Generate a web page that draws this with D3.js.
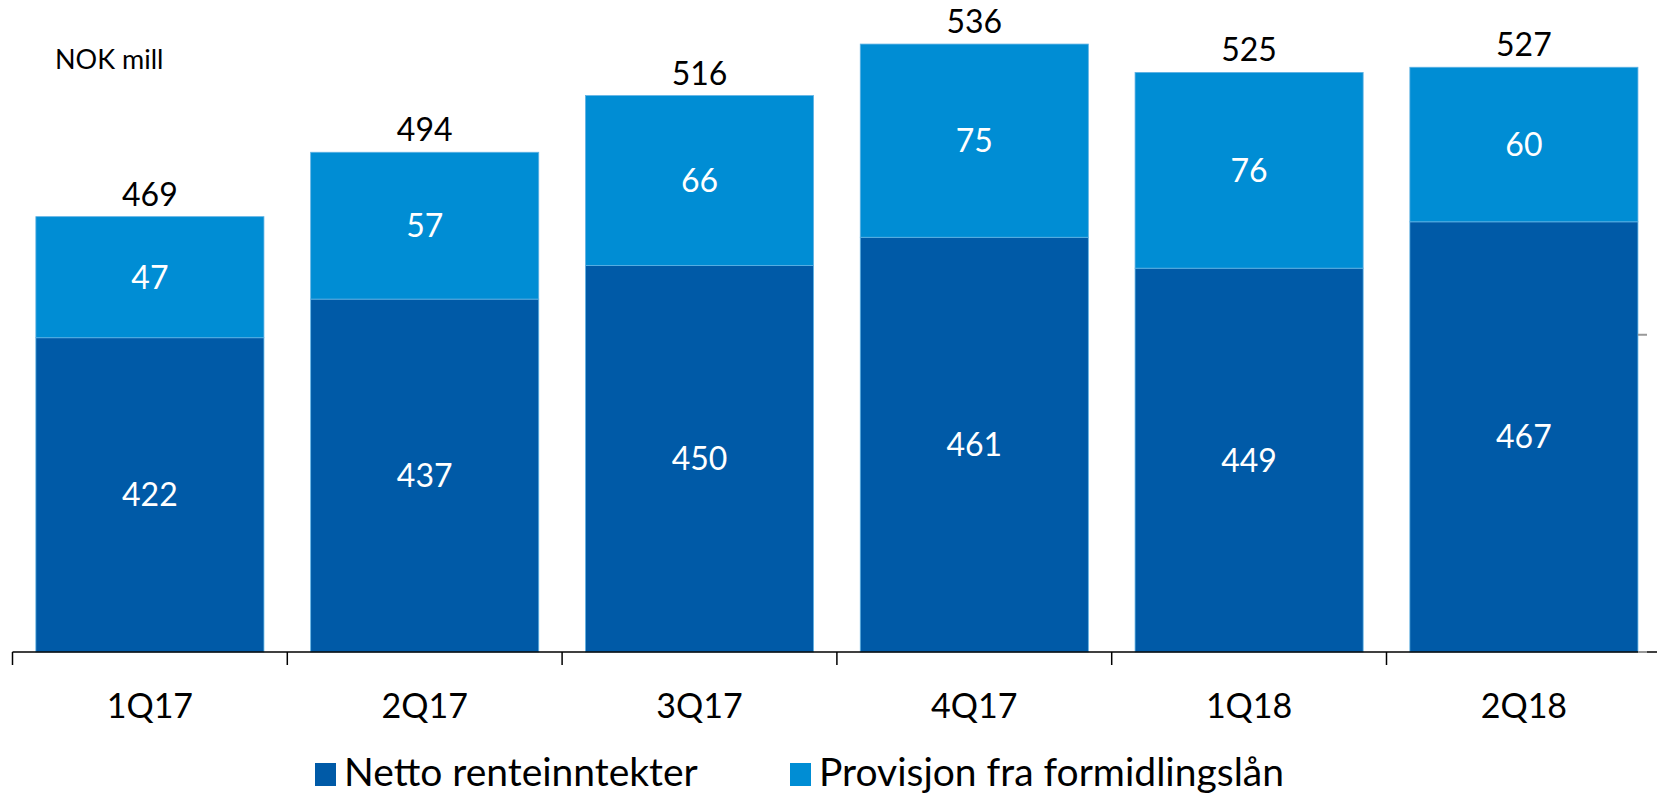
<!DOCTYPE html>
<html>
<head>
<meta charset="utf-8">
<script src="https://cdn.jsdelivr.net/npm/d3@7"></script>
<style>
  body { margin: 0; background: #fff; }
  text { font-family: Lato, "Open Sans", sans-serif; }
</style>
</head>
<body>
<div id="chart"></div>
<script>
// data
const quarters = ['1Q17', '2Q17', '3Q17', '4Q17', '1Q18', '2Q18'];
const nettoRente = [422, 437, 450, 461, 449, 467];
const provisjon = [47, 57, 66, 75, 76, 60];
const totals = [469, 494, 516, 536, 525, 527];
const seriesNames = ['Netto renteinntekter', 'Provisjon fra formidlingslån'];
const yDomain = [300, 550];
const y2Domain = [0, 1015];
const y2Ticks = [0, 500];

const width = 1657, height = 794;
const colors = ['#005AA7', '#008DD4'];

const rows = quarters.map((q, i) => ({ q, netto: nettoRente[i], prov: provisjon[i], total: totals[i] }));

const svg = d3.select('#chart').append('svg')
  .attr('width', width)
  .attr('height', height);

const x = d3.scaleBand()
  .domain(quarters)
  .range([12.5, 1661.3])
  .paddingInner(0.17)
  .paddingOuter(0.085);

const y = d3.scaleLinear().domain(yDomain).range([652, 8]);
const y2 = d3.scaleLinear().domain(y2Domain).range([652, 8]);

// stacked bars
const stack = d3.stack().keys(['netto', 'prov']);
const layers = stack(rows);

const g = svg.append('g');
layers.forEach((layer, li) => {
  g.selectAll('.bar-' + li)
    .data(layer)
    .enter().append('rect')
    .attr('class', 'bar-' + li)
    .attr('x', d => x(d.data.q))
    .attr('width', x.bandwidth())
    .attr('y', d => y(Math.max(d[1], yDomain[0])))
    .attr('height', d => y(Math.max(d[0], yDomain[0])) - y(d[1]))
    .attr('fill', colors[li])
    .attr('stroke', '#5FB2E4')
    .attr('stroke-width', 0.8);

  // value labels inside segments
  g.selectAll('.lbl-' + li)
    .data(layer)
    .enter().append('text')
    .attr('x', d => x(d.data.q) + x.bandwidth() / 2)
    .attr('y', d => (y(Math.max(d[0], yDomain[0])) + y(d[1])) / 2)
    .attr('dy', '0.36em')
    .attr('text-anchor', 'middle')
    .attr('fill', '#fff')
    .style('font-size', '32px')
    .text(d => d[1] - d[0]);
});

// totals above bars
g.selectAll('.total')
  .data(rows)
  .enter().append('text')
  .attr('class', 'total')
  .attr('x', d => x(d.q) + x.bandwidth() / 2)
  .attr('y', d => y(d.total) - 11)
  .attr('text-anchor', 'middle')
  .attr('fill', '#000')
  .style('font-size', '32px')
  .text(d => d.total);

// x axis line and category dividers
const step = x.step();
const base = y(yDomain[0]);
svg.append('line')
  .attr('x1', 12.5).attr('x2', width)
  .attr('y1', base).attr('y2', base)
  .attr('stroke', '#000').attr('stroke-width', 1.5);

svg.selectAll('.divider')
  .data(d3.range(quarters.length + 1))
  .enter().append('line')
  .attr('x1', i => x.range()[0] + i * step)
  .attr('x2', i => x.range()[0] + i * step)
  .attr('y1', base).attr('y2', base + 13)
  .attr('stroke', '#000').attr('stroke-width', 1.5);

svg.selectAll('.xlabel')
  .data(quarters)
  .enter().append('text')
  .attr('x', d => x(d) + x.bandwidth() / 2)
  .attr('y', 718)
  .attr('text-anchor', 'middle')
  .attr('fill', '#000')
  .style('font-size', '34px')
  .text(d => d);

// faint secondary axis ticks on the right
svg.selectAll('.y2tick')
  .data(y2Ticks)
  .enter().append('line')
  .attr('x1', 1638).attr('x2', 1647)
  .attr('y1', d => y2(d)).attr('y2', d => y2(d))
  .attr('stroke', '#999').attr('stroke-width', 2);

// unit label
svg.append('text')
  .attr('x', 55).attr('y', 69)
  .attr('fill', '#000')
  .style('font-size', '27px')
  .text('NOK mill');

// legend
const legendX = [315, 790];
const legend = svg.selectAll('.legend')
  .data(seriesNames)
  .enter().append('g')
  .attr('transform', (d, i) => `translate(${legendX[i]},763)`);

legend.append('rect')
  .attr('width', 21).attr('height', 23)
  .attr('fill', (d, i) => colors[i]);

legend.append('text')
  .attr('x', 29).attr('y', 23)
  .attr('fill', '#000')
  .style('font-size', '39px')
  .text(d => d);
</script>
</body>
</html>
